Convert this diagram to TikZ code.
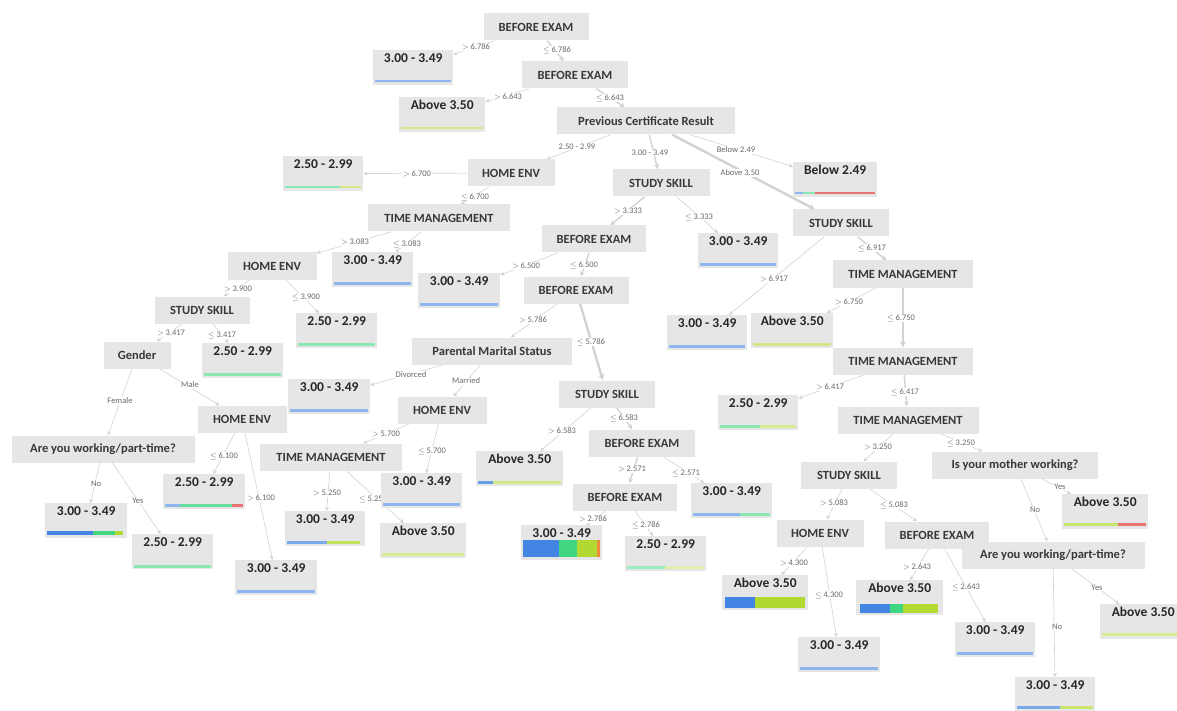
\documentclass[tikz,border=0pt]{standalone}
\usepackage{fontspec}
\setmainfont{Carlito}
\usetikzlibrary{arrows.meta,backgrounds}
\definecolor{boxgray}{RGB}{230,230,230}
\definecolor{edgegray}{RGB}{210,210,210}
\definecolor{lblgray}{RGB}{105,105,105}
\definecolor{barblue}{RGB}{66,133,226}
\definecolor{bargreen}{RGB}{64,214,130}
\definecolor{baryel}{RGB}{178,216,50}
\definecolor{barred}{RGB}{226,80,80}
\definecolor{barorange}{RGB}{238,138,60}
\tikzset{
	splitbox/.style={fill=boxgray, text=black!78, font=\bfseries\fontsize{12.5}{14}\selectfont, minimum height=27, inner sep=1pt},
	leafbox/.style={fill=boxgray, text=black!85, font=\bfseries\fontsize{13.5}{15}\selectfont, anchor=north west, minimum width=81, text height=10pt, text depth=21pt, inner ysep=2pt, inner xsep=1pt},
	edgelbl/.style={fill=white, text=lblgray, font=\fontsize{8.5}{10}\selectfont, inner sep=0.6pt},
	edgeline/.style={draw=edgegray, line width=0.6pt, -{Stealth[length=4pt,width=4pt]}},
	midline/.style={edgeline, line width=1.4pt, -{Stealth[length=5pt,width=5pt]}},
	fatline/.style={edgeline, line width=2.4pt, -{Stealth[length=6pt,width=6pt]}}
}
\begin{document}
\begin{tikzpicture}[x=1pt,y=-1pt]
	\useasboundingbox (0,0) rectangle (1177,711);
	\clip (0,0) rectangle (1177,711);
	\node[splitbox, minimum width=105] (be1) at (536,27) {BEFORE EXAM};
	\node[splitbox, minimum width=106] (be2) at (575,75) {BEFORE EXAM};
	\node[splitbox, minimum width=178] (pcr) at (646,121) {Previous Certificate Result};
	\node[splitbox, minimum width=87] (he1) at (511,173) {HOME ENV};
	\node[splitbox, minimum width=97] (ss1) at (661,183) {STUDY SKILL};
	\node[splitbox, minimum width=142] (tm1) at (439,218) {TIME MANAGEMENT};
	\node[splitbox, minimum width=104] (be3) at (594,239) {BEFORE EXAM};
	\node[splitbox, minimum width=96] (ss2) at (841,223) {STUDY SKILL};
	\node[splitbox, minimum width=89] (he2) at (272,266) {HOME ENV};
	\node[splitbox, minimum width=105] (be4) at (576,290) {BEFORE EXAM};
	\node[splitbox, minimum width=140] (tm2) at (903,274) {TIME MANAGEMENT};
	\node[splitbox, minimum width=95] (ss3) at (202,310) {STUDY SKILL};
	\node[splitbox, minimum width=67] (gen) at (137,355) {Gender};
	\node[splitbox, minimum width=160] (pms) at (492,351) {Parental Marital Status};
	\node[splitbox, minimum width=140] (tm3) at (903,361) {TIME MANAGEMENT};
	\node[splitbox, minimum width=96] (ss4) at (607,394) {STUDY SKILL};
	\node[splitbox, minimum width=89] (he3) at (242,419) {HOME ENV};
	\node[splitbox, minimum width=89] (he4) at (442,410) {HOME ENV};
	\node[splitbox, minimum width=141] (tm4) at (908,420) {TIME MANAGEMENT};
	\node[splitbox, minimum width=106] (be5) at (642,443) {BEFORE EXAM};
	\node[splitbox, minimum width=183] (wrk1) at (103,449) {Are you working/part-time?};
	\node[splitbox, minimum width=142] (tm5) at (331,457) {TIME MANAGEMENT};
	\node[splitbox, minimum width=96] (ss5) at (849,475) {STUDY SKILL};
	\node[splitbox, minimum width=166] (mom) at (1015,465) {Is your mother working?};
	\node[splitbox, minimum width=104] (be6) at (625,497) {BEFORE EXAM};
	\node[splitbox, minimum width=87] (he5) at (820,533) {HOME ENV};
	\node[splitbox, minimum width=104] (be7) at (937,535) {BEFORE EXAM};
	\node[splitbox, minimum width=183] (wrk2) at (1053,555) {Are you working/part-time?};
	\node[leafbox, minimum width=80] (res1) at (373,50) {3.00 - 3.49};
	\node[leafbox, minimum width=86] (res2) at (399,97) {Above 3.50};
	\node[leafbox, minimum width=80] (res3) at (283,156) {2.50 - 2.99};
	\node[leafbox, minimum width=84] (res4) at (793,162) {Below 2.49};
	\node[leafbox] (res5) at (332,252) {3.00 - 3.49};
	\node[leafbox, minimum width=80] (res6) at (698,233) {3.00 - 3.49};
	\node[leafbox, minimum width=82] (res7) at (418,273) {3.00 - 3.49};
	\node[leafbox] (res8) at (296,313) {2.50 - 2.99};
	\node[leafbox, minimum width=80] (res9) at (667,315) {3.00 - 3.49};
	\node[leafbox, minimum width=82] (res10) at (751,313) {Above 3.50};
	\node[leafbox] (res11) at (202,343) {2.50 - 2.99};
	\node[leafbox, minimum width=82] (res12) at (288,379) {3.00 - 3.49};
	\node[leafbox, minimum width=80] (res13) at (718,395) {2.50 - 2.99};
	\node[leafbox, minimum width=87] (res14) at (476,451) {Above 3.50};
	\node[leafbox] (res15) at (381,473) {3.00 - 3.49};
	\node[leafbox, minimum width=82] (res16) at (163,474) {2.50 - 2.99};
	\node[leafbox] (res17) at (691,483) {3.00 - 3.49};
	\node[leafbox, minimum width=86] (res18) at (1062,494) {Above 3.50};
	\node[leafbox, minimum width=82] (res19) at (45,503) {3.00 - 3.49};
	\node[leafbox, minimum width=80] (res20) at (285,511) {3.00 - 3.49};
	\node[leafbox, minimum width=86] (res21) at (380,523) {Above 3.50};
	\node[leafbox] (res22) at (521,525) {3.00 - 3.49};
	\node[leafbox] (res23) at (132,534) {2.50 - 2.99};
	\node[leafbox] (res24) at (625,536) {2.50 - 2.99};
	\node[leafbox, minimum width=82] (res25) at (235,560) {3.00 - 3.49};
	\node[leafbox, minimum width=86] (res26) at (722,575) {Above 3.50};
	\node[leafbox, minimum width=87] (res27) at (856,580) {Above 3.50};
	\node[leafbox, minimum width=86] (res28) at (1100,604) {Above 3.50};
	\node[leafbox, minimum width=80] (res29) at (955,622) {3.00 - 3.49};
	\node[leafbox, minimum width=82] (res30) at (798,637) {3.00 - 3.49};
	\node[leafbox, minimum width=80] (res31) at (1015,677) {3.00 - 3.49};
	\fill[barblue!60] (375,80) rectangle (451,82.5);
	\fill[baryel!60] (401,127) rectangle (483,129.5);
	\fill[bargreen!60] (285,186) rectangle (340,188.5);
	\fill[baryel!60] (340,186) rectangle (361,188.5);
	\fill[barblue!60] (795,192) rectangle (803,194.5);
	\fill[bargreen!60] (803,192) rectangle (815,194.5);
	\fill[barred!80] (815,192) rectangle (875,194.5);
	\fill[barblue!60] (334,282) rectangle (411,284.5);
	\fill[barblue!60] (700,263) rectangle (776,265.5);
	\fill[barblue!60] (420,303) rectangle (498,305.5);
	\fill[bargreen!60] (298,343) rectangle (375,345.5);
	\fill[barblue!60] (669,345) rectangle (745,347.5);
	\fill[baryel!60] (753,343) rectangle (831,345.5);
	\fill[bargreen!60] (204,373) rectangle (281,375.5);
	\fill[barblue!60] (290,409) rectangle (368,411.5);
	\fill[bargreen!60] (720,425) rectangle (760,427.5);
	\fill[baryel!50] (760,425) rectangle (796,427.5);
	\fill[barblue!80] (478,481) rectangle (493,483.5);
	\fill[baryel!60] (493,481) rectangle (561,483.5);
	\fill[barblue!60] (383,503) rectangle (460,505.5);
	\fill[barblue!60] (165,504) rectangle (180,506.5);
	\fill[bargreen!80] (180,504) rectangle (232,506.5);
	\fill[barred!80] (232,504) rectangle (243,506.5);
	\fill[barblue!60] (693,513) rectangle (740,515.5);
	\fill[bargreen!60] (740,513) rectangle (770,515.5);
	\fill[baryel!70] (1064,523) rectangle (1118,525.5);
	\fill[barred!80] (1118,523) rectangle (1146,525.5);
	\fill[barblue] (47,531) rectangle (93,535);
	\fill[bargreen] (93,531) rectangle (115,535);
	\fill[baryel] (115,531) rectangle (123,535);
	\fill[barblue!70] (287,541) rectangle (327,543.5);
	\fill[baryel!80] (327,541) rectangle (360,543.5);
	\fill[baryel!50] (382,553) rectangle (464,555.5);
	\fill[barblue] (523,540) rectangle (559,557);
	\fill[bargreen] (559,540) rectangle (577,557);
	\fill[baryel] (577,540) rectangle (597,557);
	\fill[barorange] (597,540) rectangle (600,557);
	\fill[bargreen!60] (134,565) rectangle (211,567.5);
	\fill[bargreen!50] (627,566) rectangle (665,568.5);
	\fill[baryel!40] (665,566) rectangle (704,568.5);
	\fill[barblue!60] (237,590) rectangle (315,592.5);
	\fill[barblue] (725,597) rectangle (755,608);
	\fill[baryel] (755,597) rectangle (805,608);
	\fill[barblue] (860,604) rectangle (890,613);
	\fill[bargreen] (890,604) rectangle (903,613);
	\fill[baryel] (903,604) rectangle (938,613);
	\fill[baryel!50] (1102,633) rectangle (1186,635.5);
	\fill[barblue!60] (957,652) rectangle (1033,654.5);
	\fill[barblue!60] (800,667) rectangle (878,669.5);
	\fill[barblue!70] (1017,706) rectangle (1060,708.5);
	\fill[baryel!70] (1060,706) rectangle (1093,708.5);
	\begin{scope}[on background layer]
		\draw[edgeline] (be1) -- (res1);
		\draw[midline] (be1) -- (be2);
		\draw[edgeline] (be2) -- (res2);
		\draw[midline] (be2) -- (pcr);
		\draw[edgeline] (pcr) -- (he1);
		\draw[midline] (pcr) -- (ss1);
		\draw[edgeline] (pcr) -- (res4);
		\draw[fatline] (pcr) -- (ss2);
		\draw[edgeline] (he1) -- (res3);
		\draw[edgeline] (he1) -- (tm1);
		\draw[midline] (ss1) -- (be3);
		\draw[edgeline] (ss1) -- (res6);
		\draw[edgeline] (tm1) -- (he2);
		\draw[edgeline] (tm1) -- (res5);
		\draw[edgeline] (be3) -- (res7);
		\draw[midline] (be3) -- (be4);
		\draw[edgeline] (ss2) -- (res9);
		\draw[midline] (ss2) -- (tm2);
		\draw[edgeline] (he2) -- (ss3);
		\draw[edgeline] (he2) -- (res8);
		\draw[edgeline] (be4) -- (pms);
		\draw[fatline] (be4) -- (ss4);
		\draw[edgeline] (tm2) -- (res10);
		\draw[fatline] (tm2) -- (tm3);
		\draw[edgeline] (ss3) -- (gen);
		\draw[edgeline] (ss3) -- (res11);
		\draw[edgeline] (gen) -- (wrk1);
		\draw[edgeline] (gen) -- (he3);
		\draw[edgeline] (pms) -- (res12);
		\draw[edgeline] (pms) -- (he4);
		\draw[edgeline] (tm3) -- (res13);
		\draw[midline] (tm3) -- (tm4);
		\draw[edgeline] (ss4) -- (res14);
		\draw[midline] (ss4) -- (be5);
		\draw[edgeline] (he3) -- (res16);
		\draw[edgeline] (he3) -- (res25);
		\draw[edgeline] (he4) -- (tm5);
		\draw[edgeline] (he4) -- (res15);
		\draw[edgeline] (tm4) -- (ss5);
		\draw[edgeline] (tm4) -- (mom);
		\draw[midline] (be5) -- (be6);
		\draw[edgeline] (be5) -- (res17);
		\draw[edgeline] (wrk1) -- (res19);
		\draw[edgeline] (wrk1) -- (res23);
		\draw[edgeline] (tm5) -- (res20);
		\draw[edgeline] (tm5) -- (res21);
		\draw[edgeline] (ss5) -- (he5);
		\draw[edgeline] (ss5) -- (be7);
		\draw[edgeline] (mom) -- (res18);
		\draw[edgeline] (mom) -- (wrk2);
		\draw[edgeline] (be6) -- (res22);
		\draw[edgeline] (be6) -- (res24);
		\draw[edgeline] (he5) -- (res26);
		\draw[edgeline] (he5) -- (res30);
		\draw[edgeline] (be7) -- (res27);
		\draw[edgeline] (be7) -- (res29);
		\draw[edgeline] (wrk2) -- (res28);
		\draw[edgeline] (wrk2) -- (res31);
		\node[edgelbl] (t1) at (476,47) {$>$ 6.786};
		\node[edgelbl] (t2) at (557,50) {$\leq$ 6.786};
		\node[edgelbl] (t3) at (508,97) {$>$ 6.643};
		\node[edgelbl] (t4) at (610,98) {$\leq$ 6.643};
		\node[edgelbl] (t5) at (577,147) {2.50 - 2.99};
		\node[edgelbl] (t6) at (650,153) {3.00 - 3.49};
		\node[edgelbl] (t7) at (736,150) {Below 2.49};
		\node[edgelbl] (t8) at (740,173) {Above 3.50};
		\node[edgelbl] (t9) at (417,174) {$>$ 6.700};
		\node[edgelbl] (t10) at (475,197) {$\leq$ 6.700};
		\node[edgelbl] (t11) at (628,211) {$>$ 3.333};
		\node[edgelbl] (t12) at (699,217) {$\leq$ 3.333};
		\node[edgelbl] (t13) at (355,242) {$>$ 3.083};
		\node[edgelbl] (t14) at (407,244) {$\leq$ 3.083};
		\node[edgelbl] (t15) at (526,266) {$>$ 6.500};
		\node[edgelbl] (t16) at (584,265) {$\leq$ 6.500};
		\node[edgelbl] (t17) at (774,279) {$>$ 6.917};
		\node[edgelbl] (t18) at (872,248) {$\leq$ 6.917};
		\node[edgelbl] (t19) at (238,289) {$>$ 3.900};
		\node[edgelbl] (t20) at (306,297) {$\leq$ 3.900};
		\node[edgelbl] (t21) at (533,320) {$>$ 5.786};
		\node[edgelbl] (t22) at (591,342) {$\leq$ 5.786};
		\node[edgelbl] (t23) at (849,302) {$>$ 6.750};
		\node[edgelbl] (t24) at (901,318) {$\leq$ 6.750};
		\node[edgelbl] (t25) at (171,333) {$>$ 3.417};
		\node[edgelbl] (t26) at (222,335) {$\leq$ 3.417};
		\node[edgelbl] (t27) at (120,401) {Female};
		\node[edgelbl] (t28) at (190,385) {Male};
		\node[edgelbl] (t29) at (411,375) {Divorced};
		\node[edgelbl] (t30) at (466,381) {Married};
		\node[edgelbl] (t31) at (830,387) {$>$ 6.417};
		\node[edgelbl] (t32) at (905,392) {$\leq$ 6.417};
		\node[edgelbl] (t33) at (562,431) {$>$ 6.583};
		\node[edgelbl] (t34) at (624,418) {$\leq$ 6.583};
		\node[edgelbl] (t35) at (224,456) {$\leq$ 6.100};
		\node[edgelbl] (t36) at (261,498) {$>$ 6.100};
		\node[edgelbl] (t37) at (386,434) {$>$ 5.700};
		\node[edgelbl] (t38) at (432,451) {$\leq$ 5.700};
		\node[edgelbl] (t39) at (878,447) {$>$ 3.250};
		\node[edgelbl] (t40) at (961,443) {$\leq$ 3.250};
		\node[edgelbl] (t41) at (632,469) {$>$ 2.571};
		\node[edgelbl] (t42) at (686,473) {$\leq$ 2.571};
		\node[edgelbl] (t43) at (96,484) {No};
		\node[edgelbl] (t44) at (138,501) {Yes};
		\node[edgelbl] (t45) at (327,493) {$>$ 5.250};
		\node[edgelbl] (t46) at (373,499) {$\leq$ 5.250};
		\node[edgelbl] (t47) at (834,503) {$>$ 5.083};
		\node[edgelbl] (t48) at (894,505) {$\leq$ 5.083};
		\node[edgelbl] (t49) at (1060,487) {Yes};
		\node[edgelbl] (t50) at (1035,510) {No};
		\node[edgelbl] (t51) at (593,519) {$>$ 2.786};
		\node[edgelbl] (t52) at (646,525) {$\leq$ 2.786};
		\node[edgelbl] (t53) at (794,563) {$>$ 4.300};
		\node[edgelbl] (t54) at (829,595) {$\leq$ 4.300};
		\node[edgelbl] (t55) at (917,567) {$>$ 2.643};
		\node[edgelbl] (t56) at (966,587) {$\leq$ 2.643};
		\node[edgelbl] (t57) at (1097,588) {Yes};
		\node[edgelbl] (t58) at (1057,627) {No};
	\end{scope}
\end{tikzpicture}
\end{document}
